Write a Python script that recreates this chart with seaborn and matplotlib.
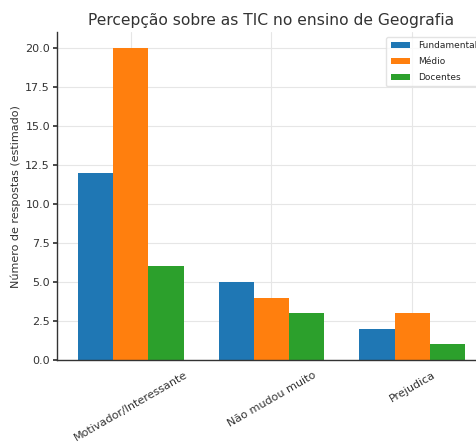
import matplotlib
matplotlib.use("Agg")
import matplotlib.pyplot as plt
import seaborn as sns
import pandas as pd

categories = ["Motivador/Interessante", "Não mudou muito", "Prejudica"]
series_names = ["Fundamental", "Médio", "Docentes"]
fundamental = [12, 5, 2]
medio = [20, 4, 3]
docentes = [6, 3, 1]
colors = ["#1f77b4", "#ff7f0e", "#2ca02c"]

rows = []
for name, vals in zip(series_names, [fundamental, medio, docentes]):
    for c, v in zip(categories, vals):
        rows.append({"Categoria": c, "Grupo": name, "Valor": v})
df = pd.DataFrame(rows)

sns.set_theme(style="whitegrid")
plt.rcParams['font.family'] = ['DejaVu Sans']

fig = plt.figure(figsize=(4.76, 4.42), dpi=100)
ax = fig.add_axes([0.1197, 0.1855, 0.9013, 0.7412])

sns.barplot(data=df, x="Categoria", y="Valor", hue="Grupo", hue_order=series_names,
            order=categories, palette=colors, width=0.75, saturation=1, ax=ax,
            edgecolor="none", linewidth=0)

ax.set_ylim(0, 21)
ax.set_xlim(-0.524, 2.524)
ax.set_yticks([0, 2.5, 5, 7.5, 10, 12.5, 15, 17.5, 20])
ax.set_yticklabels([f"{v:.1f}" for v in [0, 2.5, 5, 7.5, 10, 12.5, 15, 17.5, 20]])
ax.set_title("Percepção sobre as TIC no ensino de Geografia", fontsize=11.2, color="#333333", pad=5)
ax.set_xlabel("")
ax.set_ylabel("Número de respostas (estimado)", fontsize=8, color="#333333", labelpad=3)
ax.tick_params(axis="y", labelsize=8, colors="#333333", length=3, left=True, pad=2)
ax.tick_params(axis="x", labelsize=8, colors="#333333", length=0, pad=7)
for lab in ax.get_xticklabels():
    lab.set_rotation(30)
    lab.set_ha("center")

for s in ["top", "right"]:
    ax.spines[s].set_visible(False)
for s in ["left", "bottom"]:
    ax.spines[s].set_color("#333333")
    ax.spines[s].set_linewidth(1.0)
ax.grid(True, color="#e6e6e6", linewidth=0.8)

leg = ax.legend(loc="upper right", fontsize=6.5, frameon=True, title=None,
                handlelength=2.2, borderpad=0.5, labelspacing=0.75)
leg.get_frame().set_edgecolor("#dddddd")

fig.savefig("out.png", dpi=100)
